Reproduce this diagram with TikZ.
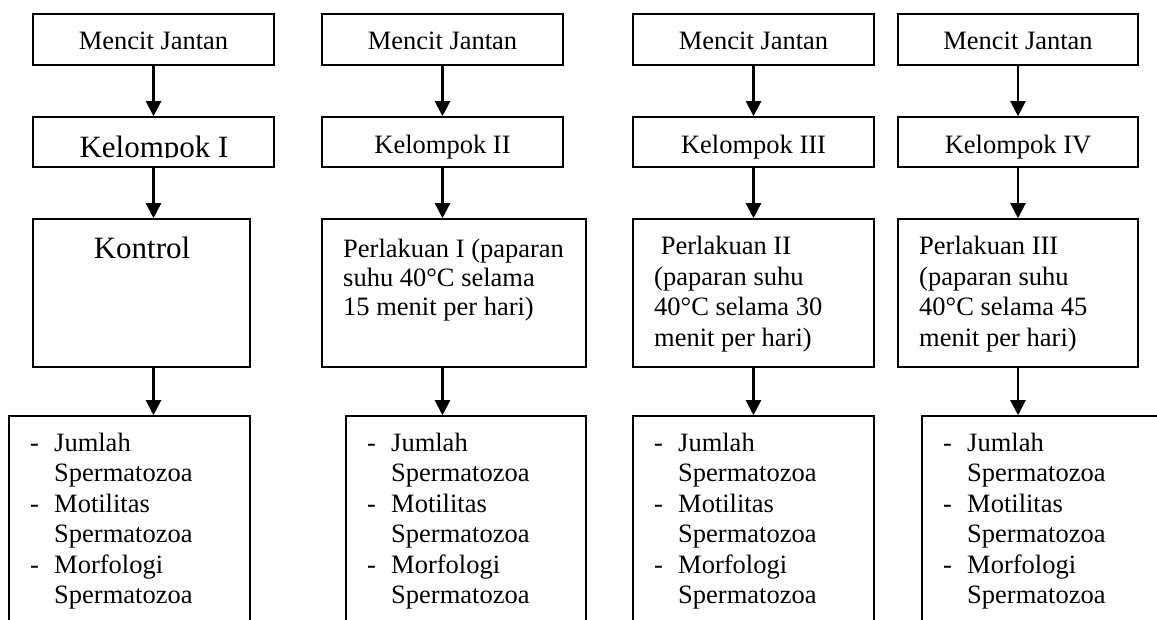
\documentclass[tikz,border=0pt]{standalone}
\usepackage{fontspec}
\setmainfont{Liberation Serif}
\usetikzlibrary{arrows.meta}
\newcommand\splist[2]{%
  \node[txt] (#1d1) at (#2+21,451) {-};
  \node[txt] (#1a) at (#2+45,451) {Jumlah};
  \node[txt] (#1b) at (#2+45,481.5) {Spermatozoa};
  \node[txt] (#1d2) at (#2+21,512) {-};
  \node[txt] (#1c) at (#2+45,512) {Motilitas};
  \node[txt] (#1e) at (#2+45,542.5) {Spermatozoa};
  \node[txt] (#1d3) at (#2+21,573) {-};
  \node[txt] (#1f) at (#2+45,573) {Morfologi};
  \node[txt] (#1g) at (#2+45,603) {Spermatozoa};
}
\begin{document}
\begin{tikzpicture}[x=1pt,y=-1pt,
  box/.style={draw=black, line width=1.6pt, inner sep=0pt},
  txt/.style={inner sep=0pt, anchor=base west, font=\fontsize{26.5}{30}\selectfont},
  ctxt/.style={inner sep=0pt, anchor=base, font=\fontsize{26.5}{30}\selectfont},
  bigtxt/.style={inner sep=0pt, anchor=base, font=\fontsize{31}{36}\selectfont},
  arr/.style={line width=2.2pt, -{Triangle[length=15pt,width=15pt]}}]
\clip (0,0) rectangle (1157,619);
\fill[white] (0,0) rectangle (1157,619);
% column 1
\node[box, minimum width=241pt, minimum height=51pt] (m1) at (153.5,39.5) {};
\node[ctxt] (m1t) at (153.5,49) {Mencit Jantan};
\node[box, minimum width=241pt, minimum height=50pt] (k1) at (153.5,142) {};
\begin{scope}
\clip (33,117) rectangle (274,157);
\node[bigtxt] (k1t) at (154,157) {Kelompok I};
\end{scope}
\node[box, minimum width=217pt, minimum height=148pt] (c1) at (141.5,293) {};
\node[bigtxt] (c1t) at (142,258) {Kontrol};
\node[box, minimum width=241pt, minimum height=244pt] (b1) at (129.5,538) {};
\splist{s1}{9}
% column 2
\node[box, minimum width=241pt, minimum height=51pt] (m2) at (442.5,39.5) {};
\node[ctxt] (m2t) at (442.5,49) {Mencit Jantan};
\node[box, minimum width=241pt, minimum height=50pt] (k2) at (442.5,142) {};
\node[ctxt] (k2t) at (442.5,153) {Kelompok II};
\node[box, minimum width=264pt, minimum height=148pt] (c2) at (454,293) {};
\node[txt] (c2a) at (343,257.5) {Perlakuan I (paparan};
\node[txt] (c2b) at (343,286.5) {suhu 40°C selama};
\node[txt] (c2c) at (343,315) {15 menit per hari)};
\node[box, minimum width=240pt, minimum height=244pt] (b2) at (466,538) {};
\splist{s2}{346}
% column 3
\node[box, minimum width=241pt, minimum height=51pt] (m3) at (753.5,39.5) {};
\node[ctxt] (m3t) at (753.5,49) {Mencit Jantan};
\node[box, minimum width=241pt, minimum height=50pt] (k3) at (753.5,142) {};
\node[ctxt] (k3t) at (753.5,153) {Kelompok III};
\node[box, minimum width=241pt, minimum height=148pt] (c3) at (753.5,293) {};
\node[txt] (c3a) at (654,254.5) {\ Perlakuan II};
\node[txt] (c3b) at (654,285) {(paparan suhu};
\node[txt] (c3c) at (654,315.5) {40°C selama 30};
\node[txt] (c3d) at (654,346) {menit per hari)};
\node[box, minimum width=241pt, minimum height=244pt] (b3) at (753.5,538) {};
\splist{s3}{633}
% column 4
\node[box, minimum width=240pt, minimum height=51pt] (m4) at (1018,39.5) {};
\node[ctxt] (m4t) at (1018,49) {Mencit Jantan};
\node[box, minimum width=240pt, minimum height=50pt] (k4) at (1018,142) {};
\node[ctxt] (k4t) at (1018,153) {Kelompok IV};
\node[box, minimum width=240pt, minimum height=148pt] (c4) at (1018,293) {};
\node[txt] (c4a) at (919,254.5) {Perlakuan III};
\node[txt] (c4b) at (919,285) {(paparan suhu};
\node[txt] (c4c) at (919,315.5) {40°C selama 45};
\node[txt] (c4d) at (919,346) {menit per hari)};
\node[box, minimum width=258pt, minimum height=244pt] (b4) at (1051,538) {};
\splist{s4}{922}
% arrows
\foreach \i in {1,2,3,4} {
  \draw[arr] (m\i.south) -- (k\i.north);
  \draw[arr] (k\i.south) -- (k\i.south |- c\i.north);
  \draw[arr] (k\i.south |- c\i.south) -- (k\i.south |- b\i.north);
}
\end{tikzpicture}
\end{document}
